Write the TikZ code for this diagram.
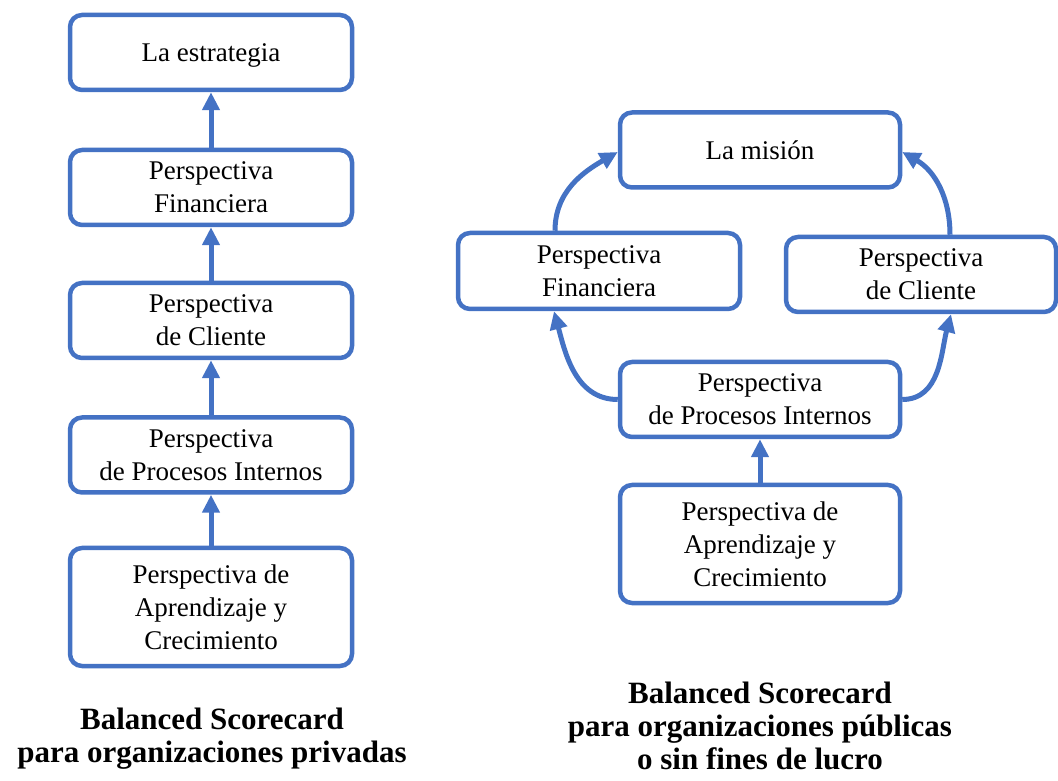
\documentclass[tikz,border=0pt]{standalone}
\usepackage{fontspec}
\setmainfont{Liberation Serif}
\usetikzlibrary{arrows.meta}
\definecolor{bscblue}{HTML}{4472C4}
\begin{document}
\begin{tikzpicture}[x=1pt, y=1pt, line width=5pt, >={Triangle[length=18pt,width=17pt]},
persp node/.style={rectangle, rounded corners=12pt, draw=bscblue, line width=4.5pt, fill=white, minimum width=282pt, minimum height=75pt, inner sep=0pt, align=center, font=\fontsize{27}{33}\selectfont},
tall node/.style={persp node, minimum height=118pt},
title node/.style={align=center, font=\fontsize{31}{33}\selectfont\bfseries}]
\useasboundingbox (0,0) rectangle (1058,780);
%privadas
\begin{scope}
\node[persp node, text depth=0pt] (e1) at (211,727.5) {La estrategia};
\node[persp node] (e2) at (211,592.5) {Perspectiva\\Financiera};
\node[persp node] (e3) at (211,459.5) {Perspectiva\\de Cliente};
\node[persp node] (e4) at (211,325) {Perspectiva\\de Procesos Internos};
\node[tall node] (e5) at (211,173) {Perspectiva de\\Aprendizaje y\\Crecimiento};
\node[title node] (t1) at (212,41) {Balanced Scorecard\\para organizaciones privadas};
\end{scope}
\begin{scope}[bscblue]
\draw[->] (e2) edge (e1);
\draw[->] (e3) edge (e2);
\draw[->] (e4) edge (e3);
\draw[->] (e5) edge (e4);
\end{scope}
%publicas
\begin{scope}
\node[persp node, minimum width=280pt, text depth=0pt] (m1) at (760,630) {La misión};
\node[persp node, minimum height=76pt] (m2) at (599,509) {Perspectiva\\Financiera};
\node[persp node, minimum width=270pt] (m3) at (921,505.5) {Perspectiva\\de Cliente};
\node[persp node, minimum width=280pt] (m4) at (760,380.5) {Perspectiva\\de Procesos Internos};
\node[tall node, minimum width=280pt] (m5) at (760,236) {Perspectiva de\\Aprendizaje y\\Crecimiento};
\node[title node] (t2) at (760,54) {Balanced Scorecard\\para organizaciones públicas\\o sin fines de lucro};
\end{scope}
\begin{scope}[bscblue]
\draw[->] ([xshift=-44pt]m2.north) to[out=90, in=210] ([yshift=-2pt]m1.west);
\draw[->] ([xshift=29pt]m3.north) to[out=90, in=-30] ([yshift=-2pt]m1.east);
\draw[->] (m4.west) to[out=180, in=-75] ([xshift=-45pt]m2.south);
\draw[->] (m4.east) to[out=0, in=-105] ([xshift=30pt]m3.south);
\draw[->] (m5) edge (m4);
\end{scope}
\end{tikzpicture}
\end{document}
